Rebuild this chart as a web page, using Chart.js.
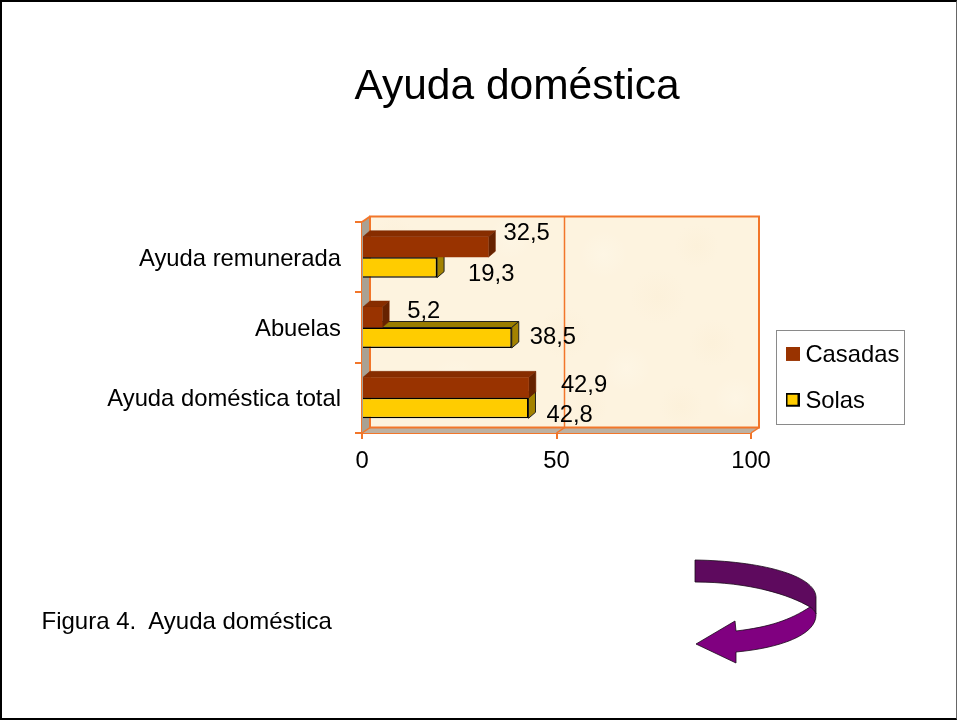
<!DOCTYPE html>
<html lang="es">
<head>
<meta charset="utf-8">
<title>Ayuda doméstica</title>
<style>
html,body{margin:0;padding:0;background:#fff;width:957px;height:720px;overflow:hidden}
#stage{position:relative;width:957px;height:720px}
canvas{position:absolute;left:0;top:0;display:block}
#frame{position:absolute;left:0;top:0;width:954px;height:716px;border-style:solid;border-color:#000 #666 #000 #000;border-width:2px 1px 2px 2px;pointer-events:none}
#caption{position:absolute;left:41.5px;top:606px;font:24px/30px "Liberation Sans",Arial,sans-serif;color:#000;white-space:pre}
#arrow{position:absolute;left:0;top:0}
</style>
<script src="https://cdn.jsdelivr.net/npm/chart.js@4/dist/chart.umd.min.js"></script>
</head>
<body>
<div id="stage">
<canvas id="c" width="957" height="720"></canvas>
<div id="caption">Figura 4.  Ayuda doméstica</div>
<svg id="arrow" width="957" height="720" aria-hidden="true">
<path d="M695 560C760 561 815 575 816 597L816 614C815 611 813 609 810 607C790 595 750 582 695 582Z" fill="#5e0a5e" stroke="#1a0a1a" stroke-width=".8"/>
<path d="M810 607C790 620 770 627 736 631L735 621L696 644L736 663L736 652C780 648 816 635 816 615C816 612 813 609 810 607Z" fill="#800080" stroke="#1a0a1a" stroke-width=".8"/>
</svg>
<div id="frame"></div>
</div>
<script>
const categories = ["Ayuda remunerada", "Abuelas", "Ayuda doméstica total"];
const casadasValues = [32.5, 5.2, 42.9];
const solasValues = [19.3, 38.5, 42.8];
const xTickValues = [0, 50, 100];
const casadasLabelOffsets = [[15, -13], [25, -6], [32, -2]];
const solasLabelOffsets = [[31, 7], [18, 0], [18, 7]];
const textureSpots = [
  [0.06, 0.12, 24, 0], [0.22, 0.80, 28, 1], [0.36, 0.10, 22, 1], [0.50, 0.55, 26, 0],
  [0.60, 0.18, 24, 1], [0.66, 0.72, 24, 1], [0.74, 0.38, 28, 0], [0.84, 0.14, 22, 0],
  [0.88, 0.60, 24, 0], [0.94, 0.86, 22, 1], [0.56, 0.90, 20, 0], [0.80, 0.90, 22, 0]
];

const FONT = '"Liberation Sans", Arial, sans-serif';
const FS = 23.8;
const ORANGE = '#F2762A';
const WALL_DX = 8, WALL_DY = 5.5;
const BAR_DX = 7, BAR_DY = 6;

const swatch = (fill, stroke, lw) => {
  const s = document.createElement('canvas');
  s.width = 14; s.height = 18;
  const g = s.getContext('2d');
  g.fillStyle = fill; g.fillRect(0, 0, 14, 14);
  if (lw) { g.strokeStyle = stroke; g.lineWidth = lw; g.strokeRect(lw / 2, lw / 2, 14 - lw, 14 - lw); }
  return s;
};

const poly = (ctx, pts, fill, stroke, lw) => {
  ctx.beginPath();
  pts.forEach((p, i) => i ? ctx.lineTo(p[0], p[1]) : ctx.moveTo(p[0], p[1]));
  ctx.closePath();
  if (fill) { ctx.fillStyle = fill; ctx.fill(); }
  if (stroke) { ctx.strokeStyle = stroke; ctx.lineWidth = lw || 1; ctx.stroke(); }
};

const scene = {
  id: 'scene',
  afterLayout(chart) {
    const lg = chart.legend;
    lg.left = 769.5; lg.right = 905; lg.top = 322; lg.bottom = 470;
    chart.titleBlock.left = 77; chart.titleBlock.right = 957;
  },
  beforeDatasetsDraw(chart) {
    const { ctx, chartArea: a, scales: { x } } = chart;
    const wx = a.left + WALL_DX, wy = a.top - WALL_DY, ww = a.right - a.left, wh = a.bottom - a.top;
    ctx.save();
    poly(ctx, [[a.left, a.top], [wx, wy], [wx, a.bottom - WALL_DY], [a.left, a.bottom]], '#A9A193');
    poly(ctx, [[a.left, a.bottom], [wx, a.bottom - WALL_DY], [a.right + WALL_DX, a.bottom - WALL_DY], [a.right, a.bottom]], '#BDB1A2');
    ctx.fillStyle = '#FDF3DF';
    ctx.fillRect(wx, wy, ww, wh);
    ctx.save();
    ctx.beginPath(); ctx.rect(wx, wy, ww, wh); ctx.clip();
    textureSpots.forEach(([fx, fy, r, pale]) => {
      const cx = wx + fx * ww, cy = wy + fy * wh;
      const g = ctx.createRadialGradient(cx, cy, 0, cx, cy, r);
      const rgb = pale ? '255,251,240' : '250,236,208';
      g.addColorStop(0, 'rgba(' + rgb + ',0.3)');
      g.addColorStop(1, 'rgba(' + rgb + ',0)');
      ctx.fillStyle = g;
      ctx.fillRect(cx - r, cy - r, 2 * r, 2 * r);
    });
    ctx.restore();
    ctx.strokeStyle = ORANGE; ctx.lineWidth = 2;
    ctx.strokeRect(wx, wy, ww, wh);
    poly(ctx, [[a.left, a.top], [wx, wy]], null, ORANGE, 2);
    xTickValues.forEach(v => {
      const px = x.getPixelForValue(v);
      ctx.beginPath();
      ctx.moveTo(px, a.bottom);
      ctx.lineTo(px + WALL_DX, a.bottom - WALL_DY);
      ctx.lineTo(px + WALL_DX, wy);
      ctx.strokeStyle = ORANGE; ctx.lineWidth = 1.5;
      ctx.stroke();
    });
    ctx.restore();
  },
  beforeDatasetDraw(chart, args) {
    const { ctx } = chart;
    const ds = chart.data.datasets[args.index];
    ctx.save();
    args.meta.data.forEach(el => {
      const p = el.getProps(['x', 'y', 'base', 'height']);
      const t = p.y - p.height / 2, b = p.y + p.height / 2;
      poly(ctx, [[p.base, t], [p.base + BAR_DX, t - BAR_DY], [p.x + BAR_DX, t - BAR_DY], [p.x, t]], ds.topColor, ds.edgeColor, ds.edgeWidth);
      poly(ctx, [[p.x, t], [p.x + BAR_DX, t - BAR_DY], [p.x + BAR_DX, b - BAR_DY], [p.x, b]], ds.sideColor, ds.edgeColor, ds.edgeWidth);
    });
    ctx.restore();
  },
  afterDatasetsDraw(chart) {
    const { ctx } = chart;
    ctx.save();
    ctx.font = FS + 'px ' + FONT;
    ctx.fillStyle = '#000';
    ctx.textBaseline = 'middle';
    ctx.textAlign = 'left';
    chart.data.datasets.forEach((ds, i) => {
      chart.getDatasetMeta(i).data.forEach((el, j) => {
        const off = ds.labelOffsets[j];
        ctx.fillText(ds.data[j].toFixed(1).replace('.', ','), el.x + off[0], el.y + off[1]);
      });
    });
    ctx.restore();
  },
  beforeDraw(chart) {
    const { ctx } = chart;
    ctx.save();
    ctx.fillStyle = '#fff';
    ctx.fillRect(777, 331, 128, 94);
    ctx.strokeStyle = '#8a8a8a'; ctx.lineWidth = 1;
    ctx.strokeRect(776.5, 330.5, 128, 94);
    ctx.restore();
  }
};

new Chart(document.getElementById('c'), {
  type: 'bar',
  plugins: [scene],
  data: {
    labels: categories,
    datasets: [
      { label: 'Casadas', data: casadasValues, backgroundColor: '#993300', borderWidth: 0,
        topColor: '#872D00', sideColor: '#662200', edgeColor: '#7A2900', edgeWidth: 0.5, labelOffsets: casadasLabelOffsets,
        pointStyle: swatch('#993300', '#7A2900', 0) },
      { label: 'Solas', data: solasValues, backgroundColor: '#FFCC00', borderColor: '#000', borderWidth: 1.5,
        topColor: '#9A7D00', sideColor: '#A38200', edgeColor: '#222', edgeWidth: 1, labelOffsets: solasLabelOffsets,
        pointStyle: swatch('#FFCC00', '#000', 2) }
    ]
  },
  options: {
    indexAxis: 'y',
    responsive: false,
    animation: false,
    events: [],
    layout: { padding: { left: 0, right: 206, top: 0, bottom: 0 } },
    datasets: { bar: { categoryPercentage: 0.583, barPercentage: 1 } },
    scales: {
      x: {
        min: 0, max: 100,
        afterBuildTicks(s) { s.ticks = xTickValues.map(v => ({ value: v })); },
        afterFit(s) { s.height = 287; },
        grid: { drawOnChartArea: false, color: ORANGE, tickLength: 6, lineWidth: 2 },
        border: { color: ORANGE, width: 2 },
        ticks: { color: '#000', font: { family: FONT, size: FS }, padding: 8, maxRotation: 0, autoSkip: false }
      },
      y: {
        afterFit(s) { s.width = 362; },
        grid: { drawOnChartArea: false, color: ORANGE, tickLength: 7, lineWidth: 2 },
        border: { color: ORANGE, width: 2 },
        ticks: { color: '#000', font: { family: FONT, size: FS }, padding: 14, autoSkip: false, labelOffset: 2 }
      }
    },
    plugins: {
      tooltip: { enabled: false },
      title: {
        display: true, text: 'Ayuda doméstica', color: '#000',
        font: { family: FONT, size: 42.5, weight: 'normal', lineHeight: 1.2 },
        padding: { top: 62, bottom: 109 }
      },
      legend: {
        position: 'chartArea', align: 'start',
        labels: {
          color: '#000', font: { family: FONT, size: FS }, padding: 22,
          usePointStyle: true, pointStyleWidth: 2, boxHeight: 14
        }
      }
    }
  }
});
</script>
</body>
</html>
